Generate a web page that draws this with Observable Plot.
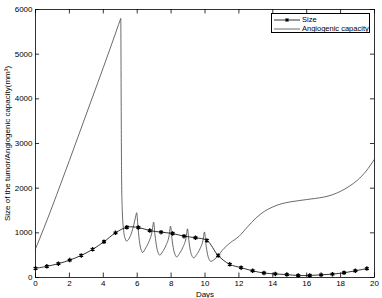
<!DOCTYPE html>
<html><head><meta charset="utf-8">
<script src="https://cdn.jsdelivr.net/npm/d3@7"></script>
<script src="https://cdn.jsdelivr.net/npm/@observablehq/plot@0.6"></script>
<style>
body{margin:0;background:#fff;font-family:"Liberation Sans",Arial,sans-serif;}
#wrap{position:relative;width:382px;height:298px;}
#legend{position:absolute;left:271px;top:13px;width:99px;height:20px;border:0.8px solid #000;background:#fff;font-size:7.5px;line-height:9px;box-sizing:border-box;padding-top:1px;}
#legend div{display:flex;align-items:center;height:9px;}
#legend svg{margin-left:2px;margin-right:2px;}
</style></head>
<body><div id="wrap"><div id="chart"></div>
<div id="legend">
<div><svg width="26" height="8"><line x1="0" y1="4" x2="26" y2="4" stroke="#000" stroke-width="0.8"/><g stroke="#000" stroke-width="1"><line x1="11" y1="4" x2="15" y2="4"/><line x1="13" y1="2" x2="13" y2="6"/><line x1="11.6" y1="2.6" x2="14.4" y2="5.4"/><line x1="11.6" y1="5.4" x2="14.4" y2="2.6"/></g></svg><span>Size</span></div>
<div><svg width="26" height="8"><line x1="0" y1="4" x2="26" y2="4" stroke="#444" stroke-width="0.8"/></svg><span>Angiogenic capacity</span></div>
</div></div>
<script>
const sizeDays = [0,0.67,1.35,2.02,2.7,3.37,4.04,4.72,5.39,6.07,6.74,7.41,8.09,8.76,9.44,10.11,10.78,11.46,12.13,12.81,13.48,14.15,14.83,15.5,16.18,16.85,17.52,18.2,18.87,19.55];
const sizeValues = [205,250,310,390,495,630,800,1000,1125,1120,1050,1015,985,925,890,830,490,295,220,150,100,80,65,45,45,60,75,105,150,200];
const angioDays = [0,0.5,1,1.5,2,2.5,3,3.5,4,4.5,4.9,5.0,5.03,5.06,5.08,5.12,5.2,5.3,5.38,5.5,5.65,5.8,5.9,5.97,6.05,6.15,6.25,6.31,6.5,6.7,6.88,6.97,7.05,7.15,7.25,7.33,7.5,7.7,7.88,7.97,8.05,8.15,8.25,8.33,8.5,8.7,8.88,8.97,9.05,9.15,9.25,9.33,9.5,9.7,9.88,9.97,10.05,10.15,10.25,10.35,10.5,10.8,11,11.5,12,12.5,13,13.5,14,14.5,15,15.5,16,16.5,17,17.5,18,18.5,19,19.5,20];
const angioValues = [640,1110,1600,2110,2620,3140,3660,4180,4700,5230,5660,5770,5800,3500,2200,1500,1050,860,815,860,980,1180,1350,1450,1100,760,600,560,660,810,1030,1240,950,680,540,500,580,720,930,1150,870,620,500,460,540,680,880,1090,820,580,470,440,510,640,830,1020,760,520,400,360,390,500,600,780,920,1130,1330,1480,1580,1650,1690,1720,1745,1770,1800,1850,1930,2040,2180,2380,2650];
const xTicks = [0,2,4,6,8,10,12,14,16,18,20];
const yTicks = [0,1000,2000,3000,4000,5000,6000];

const sizeData = sizeDays.map((d,i)=>({day:d,value:sizeValues[i]}));
const angioData = angioDays.map((d,i)=>({day:d,value:angioValues[i]}));

const chart = Plot.plot({
  width:382, height:298,
  marginLeft:35, marginRight:8, marginTop:9, marginBottom:21,
  style:{fontFamily:'"Liberation Sans",Arial,sans-serif',fontSize:"8px",background:"#fff",color:"#000"},
  x:{domain:[0,20]},
  y:{domain:[0,6000]},
  marks:[
    Plot.frame({stroke:"#000",strokeWidth:0.8}),
    Plot.axisX(xTicks,{tickSize:0,tickPadding:3,tickFormat:d=>String(d),label:"Days",labelAnchor:"center",labelArrow:"none",labelOffset:19,fontSize:8}),
    Plot.axisY(yTicks,{tickSize:0,tickPadding:3,tickFormat:d=>String(d),label:"Size of the tumor/Angiogenic capacity(mm³)",labelAnchor:"center",labelArrow:"none",labelOffset:31,fontSize:8}),
    Plot.ruleX(xTicks,{y1:0,y2:100,stroke:"#000",strokeWidth:0.8}),
    Plot.ruleX(xTicks,{y1:5900,y2:6000,stroke:"#000",strokeWidth:0.8}),
    Plot.ruleY(yTicks,{x1:0,x2:0.24,stroke:"#000",strokeWidth:0.8}),
    Plot.ruleY(yTicks,{x1:19.76,x2:20,stroke:"#000",strokeWidth:0.8}),
    Plot.line(angioData,{x:"day",y:"value",stroke:"#444",strokeWidth:0.8,curve:"monotone-x"}),
    Plot.line(sizeData,{x:"day",y:"value",stroke:"#000",strokeWidth:0.8,curve:"catmull-rom"}),
    Plot.dot(sizeData,{x:"day",y:"value",symbol:"asterisk",r:2.1,stroke:"#000",strokeWidth:1.3})
  ]
});
document.getElementById("chart").appendChild(chart);
</script>
</body></html>
